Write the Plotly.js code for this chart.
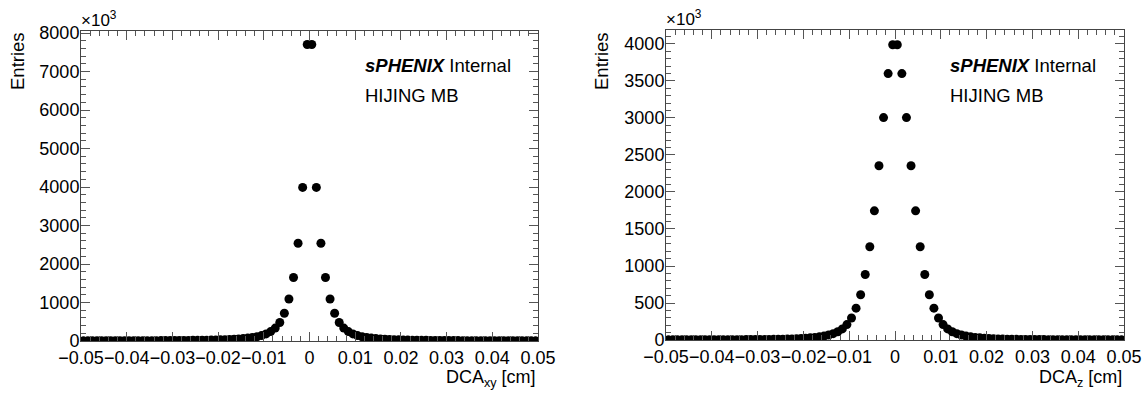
<!DOCTYPE html>
<html>
<head>
<meta charset="utf-8">
<script src="https://cdn.plot.ly/plotly-3.0.1.min.js"></script>
<style>html,body{margin:0;padding:0;background:#fff;}#plot{width:1145px;height:394px;}</style>
</head>
<body>
<div id="plot"></div>
<script>
// Histogram binning (100 bins from -0.05 to 0.05 cm)
const binLow = -0.05;
const binWidth = 0.001;

// DCA_xy entries (x10^3), bin by bin from left to right
const dcaXyEntries = [
  4.8, 4.9, 5, 5.2, 5.4, 5.6, 5.8, 6, 6.3, 6.6,
  6.9, 7.2, 7.6, 8, 8.5, 9, 9.5, 10, 10.5, 11,
  12, 13, 14, 15, 16.5, 18, 20, 22, 24, 27,
  30, 34, 39, 45, 52, 62, 75, 90, 110, 140,
  185, 245, 335, 480, 720, 1090, 1650, 2540, 3990, 7700,
  7700, 3990, 2540, 1650, 1090, 720, 480, 335, 245, 185,
  140, 110, 90, 75, 62, 52, 45, 39, 34, 30,
  27, 24, 22, 20, 18, 16.5, 15, 14, 13, 12,
  11, 10.5, 10, 9.5, 9, 8.5, 8, 7.6, 7.2, 6.9,
  6.6, 6.3, 6, 5.8, 5.6, 5.4, 5.2, 5, 4.9, 4.8
];

// DCA_z entries (x10^3)
const dcaZEntries = [
  1.9, 2.0, 2.1, 2.2, 2.3, 2.4, 2.5, 2.6, 2.7, 2.9,
  3.1, 3.3, 3.5, 3.8, 4.1, 4.4, 4.8, 5.2, 5.7, 6.2,
  6.8, 7.5, 8.3, 9.2, 10.2, 11.5, 13, 15, 17.5, 20.5,
  24, 29, 35, 43, 53, 67, 86, 112, 150, 208,
  297, 430, 612, 885, 1260, 1745, 2355, 3005, 3600, 3990,
  3990, 3600, 3005, 2355, 1745, 1260, 885, 612, 430, 297,
  208, 150, 112, 86, 67, 53, 43, 35, 29, 24,
  20.5, 17.5, 15, 13, 11.5, 10.2, 9.2, 8.3, 7.5, 6.8,
  6.2, 5.7, 5.2, 4.8, 4.4, 4.1, 3.8, 3.5, 3.3, 3.1,
  2.9, 2.7, 2.6, 2.5, 2.4, 2.3, 2.2, 2.1, 2.0, 1.9
];

const xTickVals = [-0.05, -0.04, -0.03, -0.02, -0.01, 0, 0.01, 0.02, 0.03, 0.04, 0.05];
const xTickText = ['\u22120.05', '\u22120.04', '\u22120.03', '\u22120.02', '\u22120.01', '0', '0.01', '0.02', '0.03', '0.04', '0.05'];

const binCenters = dcaXyEntries.map((_, i) => binLow + (i + 0.5) * binWidth);

const W = 1145, H = 394;
const FONT = 'Liberation Sans, Arial, Helvetica, sans-serif';
const FS = 18;
const px = v => v / W;
const py = v => (H - v) / H;

const marker = {color: '#000', size: 9};
const traces = [
  {x: binCenters, y: dcaXyEntries, type: 'scatter', mode: 'markers', marker, xaxis: 'x', yaxis: 'y', hoverinfo: 'x+y'},
  {x: binCenters, y: dcaZEntries, type: 'scatter', mode: 'markers', marker, xaxis: 'x2', yaxis: 'y2', hoverinfo: 'x+y'}
];

function xAxis(domain, anchor) {
  return {
    domain, anchor, range: [-0.05, 0.05], tickmode: 'array', tickvals: xTickVals, ticktext: xTickText,
    tickangle: 0,
    ticks: 'inside', ticklen: 9, tickcolor: '#555', tickwidth: 1,
    minor: {dtick: 0.002, tick0: 0, ticks: 'inside', ticklen: 5, tickcolor: '#555', tickwidth: 1},
    showline: true, linecolor: '#444', linewidth: 1, mirror: 'ticks',
    showgrid: false, zeroline: false, fixedrange: true,
    tickfont: {family: FONT, size: FS, color: '#000'}
  };
}
function yAxis(domain, anchor, top, dt, mdt) {
  return {
    domain, anchor, range: [0, top], dtick: dt, tick0: 0, tickangle: 0,
    ticks: 'inside', ticklen: 9, tickcolor: '#555', tickwidth: 1,
    minor: {dtick: mdt, tick0: 0, ticks: 'inside', ticklen: 5, tickcolor: '#555', tickwidth: 1},
    showline: true, linecolor: '#444', linewidth: 1, mirror: 'ticks',
    showgrid: false, zeroline: false, fixedrange: true, ticklabelstandoff: -3,
    tickfont: {family: FONT, size: FS, color: '#000'}
  };
}

const txt = (text, x, y, xanchor, yanchor, size, extra) => Object.assign({
  text, x, y, xref: 'paper', yref: 'paper', xanchor, yanchor, showarrow: false,
  font: {family: FONT, size, color: '#000'}
}, extra || {});

const layout = {
  width: W, height: H,
  margin: {l: 0, r: 0, t: 0, b: 0},
  paper_bgcolor: '#fff', plot_bgcolor: '#fff',
  showlegend: false,
  xaxis: xAxis([px(81), px(538)], 'y'),
  yaxis: yAxis([py(341), py(31)], 'x', 8052, 1000, 200),
  xaxis2: xAxis([px(666), px(1124)], 'y2'),
  yaxis2: yAxis([py(340), py(30)], 'x2', 4189, 500, 100),
  annotations: [
    txt('\u00d710<sup>3</sup>', px(79), py(32), 'left', 'bottom', 17),
    txt('\u00d710<sup>3</sup>', px(664), py(31), 'left', 'bottom', 17),
    txt('Entries', px(17), py(30), 'center', 'top', 18.5, {textangle: -90}),
    txt('Entries', px(601), py(30), 'center', 'top', 18.5, {textangle: -90}),
    txt('DCA<sub>xy</sub> [cm]', px(538), py(378), 'right', 'middle', 18),
    txt('DCA<sub>z</sub> [cm]', px(1124), py(378), 'right', 'middle', 18),
    txt('<b><i>sPHENIX</i></b> Internal', px(363), py(66), 'left', 'middle', 18.5),
    txt('HIJING MB', px(363), py(95), 'left', 'middle', 18.5),
    txt('<b><i>sPHENIX</i></b> Internal', px(948), py(66), 'left', 'middle', 18.5),
    txt('HIJING MB', px(948), py(95), 'left', 'middle', 18.5)
  ]
};

Plotly.newPlot('plot', traces, layout, {staticPlot: true, displayModeBar: false});
</script>
</body>
</html>
